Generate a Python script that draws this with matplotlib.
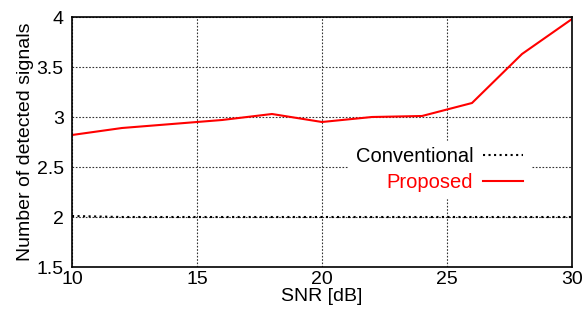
import matplotlib
matplotlib.use("Agg")
import matplotlib.pyplot as plt

plt.rcParams['font.family'] = ['Liberation Sans', 'DejaVu Sans']

snr = [10, 12, 14, 16, 18, 20, 22, 24, 26, 28, 30]
proposed = [2.82, 2.89, 2.93, 2.97, 3.03, 2.95, 3.00, 3.01, 3.14, 3.63, 3.98]
conventional = [2.01, 2.00, 2.00, 2.00, 2.00, 2.00, 2.00, 2.00, 2.00, 2.00, 2.00]

fig = plt.figure(figsize=(5.88, 3.10), dpi=100)
ax = fig.add_axes([72 / 588, 43 / 310, 500 / 588, 250 / 310])

ax.plot(snr, conventional, color='black', linestyle=':', linewidth=1.5, label='Conventional')
ax.plot(snr, proposed, color='red', linestyle='-', linewidth=1.5, label='Proposed')

ax.set_xlim(10, 30)
ax.set_ylim(1.5, 4)
ax.set_xticks([10, 15, 20, 25, 30])
ax.set_yticks([1.5, 2, 2.5, 3, 3.5, 4])
ax.set_yticklabels(['1.5', '2', '2.5', '3', '3.5', '4'])
ax.grid(True, color='black', linestyle=(0, (1.5, 1.5)), linewidth=0.8, alpha=0.8)
ax.tick_params(direction='in', length=0, labelsize=14)
ax.tick_params(axis='x', pad=3)
ax.tick_params(axis='y', pad=6)
for s in ax.spines.values():
    s.set_linewidth(1.2)

ax.set_xlabel('SNR [dB]', fontsize=14, labelpad=0)
ax.set_ylabel('Number of detected signals', fontsize=14, labelpad=2)

leg = ax.legend(loc='center', bbox_to_anchor=(0.735, 0.39), markerfirst=False,
                frameon=True, fontsize=14.5, handlelength=2.0, borderpad=0.3,
                labelspacing=0.35, handletextpad=0.5)
leg.get_frame().set_edgecolor('white')
leg.get_frame().set_facecolor('white')
leg.get_frame().set_alpha(1)
leg.get_frame().set_boxstyle('square', pad=0)
for t, c in zip(leg.get_texts(), ['black', 'red']):
    t.set_color(c)
    t.set_ha('right')

fig.savefig('out.png', dpi=100)
